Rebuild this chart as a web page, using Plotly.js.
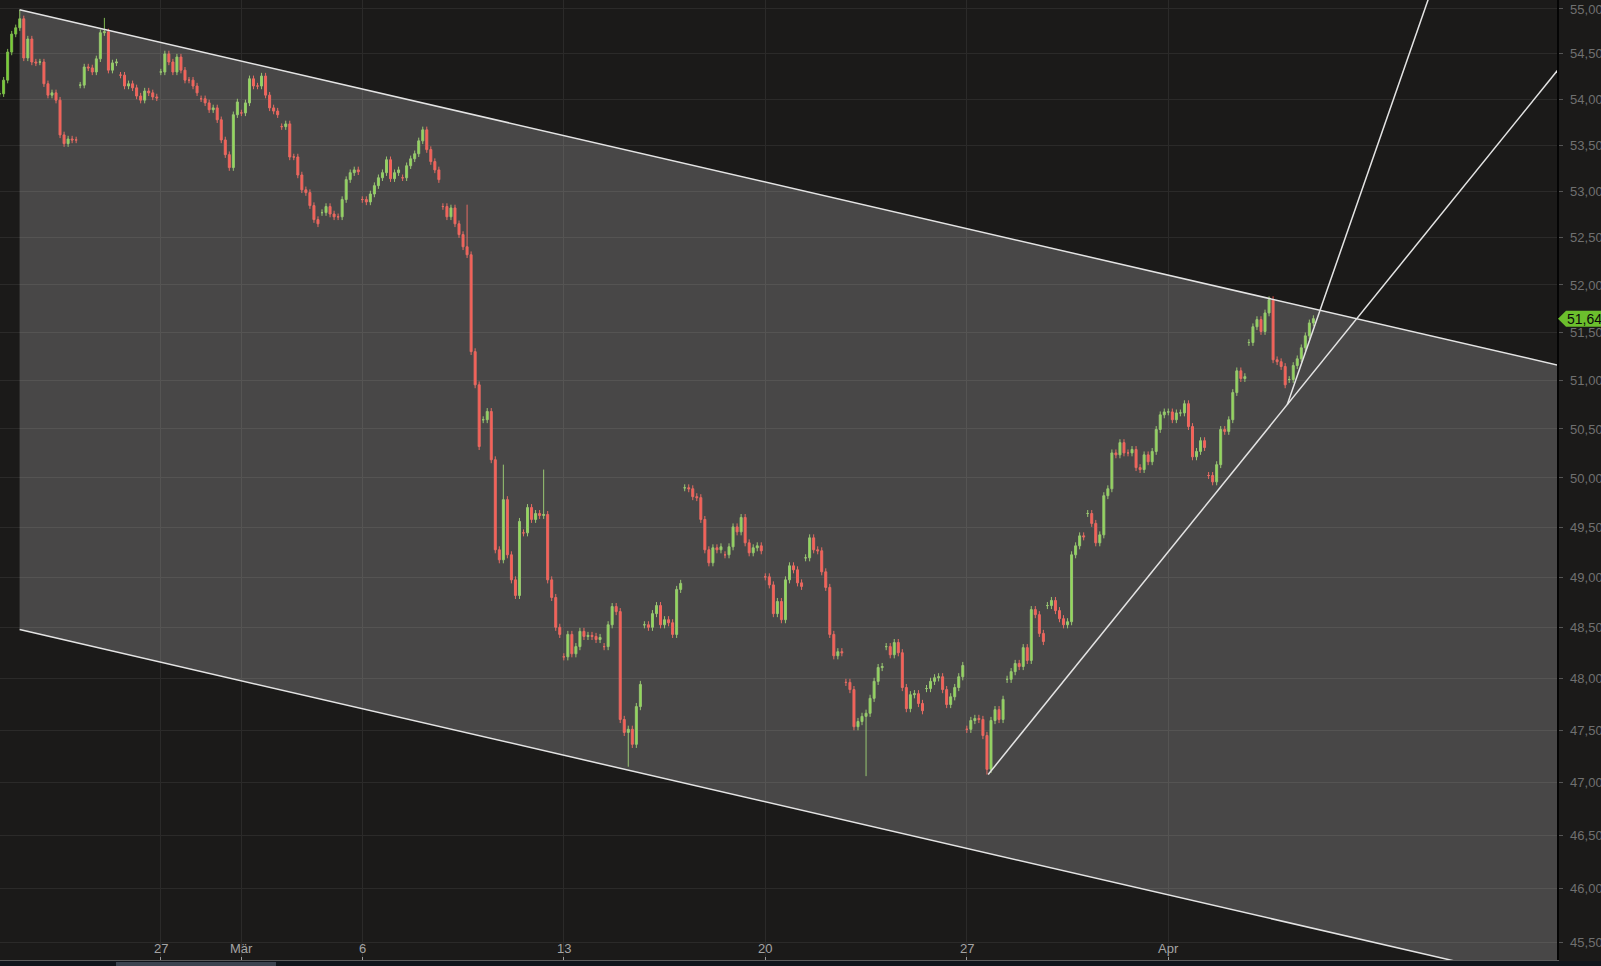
<!DOCTYPE html>
<html>
<head>
<meta charset="utf-8">
<script src="https://cdn.plot.ly/plotly-3.0.1.min.js"></script>
<style>
    html, body { margin: 0; padding: 0; background: #1b1a19; }
    #chart { width: 1601px; height: 966px; }
</style>
</head>
<body>
<div id="chart"></div>
<script>
// trading days on the chart, weekends skipped, 10 intraday bars per day
var days = ['2023-02-21', '2023-02-22', '2023-02-23', '2023-02-24',
    '2023-02-27', '2023-02-28', '2023-03-01', '2023-03-02', '2023-03-03',
    '2023-03-06', '2023-03-07', '2023-03-08', '2023-03-09', '2023-03-10',
    '2023-03-13', '2023-03-14', '2023-03-15', '2023-03-16', '2023-03-17',
    '2023-03-20', '2023-03-21', '2023-03-22', '2023-03-23', '2023-03-24',
    '2023-03-27', '2023-03-28', '2023-03-29', '2023-03-30', '2023-03-31',
    '2023-04-03', '2023-04-04', '2023-04-05', '2023-04-06']
var baseDay = '2023-02-27'
var barsPerDay = 10

// bar closes, one row per trading day
var closes = [
    54060, 54210, 54520, 54720, 54790, 54890, 54455, 54665, 54410, 54400,
    54410, 54170, 54045, 54070, 53990, 53610, 53515, 53565, 53555, 53555,
    54155, 54355, 54345, 54300, 54445, 54735, 54745, 54320, 54400, 54410,
    54265, 54145, 54170, 54125, 54035, 53990, 54090, 54070, 54025, 54015,
    54300, 54500, 54410, 54300, 54465, 54320, 54210, 54210, 54145, 54070,
    54005, 53960, 53885, 53905, 53775, 53555, 53395, 53255, 53830, 53970,
    53850, 53960, 54225, 54145, 54145, 54255, 54045, 53905, 53870, 53830,
    53700, 53730, 53370, 53370, 53175, 53015, 52985, 52845, 52695, 52650,
    52770, 52835, 52755, 52725, 52725, 52910, 53125, 53200, 53230, 53210,
    52910, 52885, 52970, 53060, 53145, 53200, 53340, 53135, 53200, 53230,
    53145, 53275, 53350, 53405, 53545, 53665, 53450, 53320, 53230, 53125,
    52835, 52725, 52820, 52650, 52535, 52405, 52320, 51300, 50955, 50320,
    50595, 50680, 50185, 49275, 49175, 49780, 49225, 48975, 48820, 49560,
    49445, 49700, 49580, 49640, 49620, 49630, 48975, 48800, 48505, 48435,
    48215, 48435, 48245, 48315, 48465, 48415, 48425, 48415, 48385, 48405,
    48315, 48530, 48710, 48660, 47605, 47480, 47510, 47365, 47730, 47945,
    48530, 48505, 48640, 48720, 48530, 48580, 48550, 48435, 48880, 48940,
    49900, 49890, 49810, 49800, 49580, 49275, 49145, 49295, 49275, 49305,
    49225, 49305, 49505, 49455, 49600, 49345, 49245, 49295, 49315, 49265,
    49005, 48925, 48640, 48760, 48580, 48975, 49115, 49075, 48945, 48910,
    49195, 49395, 49275, 49265, 49055, 48900, 48435, 48225, 48265, 48255,
    47965, 47895, 47535, 47585, 47635, 47665, 47810, 47975, 48110, 48120,
    48315, 48235, 48355, 48255, 47915, 47710, 47845, 47855, 47760, 47690,
    47905, 47975, 48010, 48020, 47895, 47750, 47825, 47915, 48020, 48130,
    47510, 47595, 47615, 47605, 47450, 47125, 47595, 47700, 47605, 47800,
    47995, 48070, 48150, 48120, 48305, 48180, 48680, 48630, 48445, 48365,
    48720, 48770, 48670, 48590, 48530, 48560, 49225, 49315, 49415, 49405,
    49640, 49540, 49345, 49425, 49820, 49890, 50255, 50235, 50360, 50255,
    50255, 50290, 50105, 50085, 50235, 50165, 50270, 50495, 50645, 50675,
    50675, 50595, 50665, 50665, 50760, 50525, 50215, 50270, 50380, 50310,
    50025, 49960, 50135, 50495, 50475, 50595, 50875, 51100, 51020, 51040,
    51395, 51560, 51635, 51510, 51705, 51845, 51215, 51195, 51145, 50955,
    51010, 51155, 51225, 51340, 51465, 51600, 51645
]

// long wicks that stick out of the body
var wickBars = [5, 26, 116, 125, 135, 156, 215, 245]
var wickTo = [54990, 54900, 52855, 50135, 50085, 47150, 47060, 47075]

var lastPrice = 51645

var tickDays = ['2023-02-27', '2023-03-01', '2023-03-06', '2023-03-13', '2023-03-20', '2023-03-27', '2023-04-03']
var tickText = ['27', 'Mär', '6', '13', '20', '27', 'Apr']
var priceTicks = [45500, 46000, 46500, 47000, 47500, 48000, 48500, 49000, 49500,
    50000, 50500, 51000, 51500, 52000, 52500, 53000, 53500, 54000, 54500, 55000]

// drawn trend lines, anchors in trading days from 27 Feb
var channelDays = [-3.504, 27.526]
var channelTop = [54990, 51855]
var channelBottomStart = 48483
var trend1Days = [20.53, 27.95]
var trend1Prices = [47076, 50750]
var trend2Days = [27.95, 28.77]
var trend2Prices = [50750, 51739]


var xRange = [-3.99, 34.645]
var yRange = [Math.log10(45334), Math.log10(55100)]
var farDay = 37

function extend(ds, ps, d) {
    var a = Math.log10(ps[0]), b = Math.log10(ps[1])
    return Math.pow(10, a + (b - a) * (d - ds[0]) / (ds[1] - ds[0]))
}

var zero = days.indexOf(baseDay)
var x = [], o = [], h = [], l = [], c = []
for (var i = 0; i < closes.length; i++) {
    var d = Math.floor(i / barsPerDay)
    var k = i % barsPerDay
    x.push(d - zero + k / barsPerDay)
    var op = (k == 0) ? closes[i] : closes[i - 1]
    var cl = closes[i]
    var hi = Math.max(op, cl) + 35
    var lo = Math.min(op, cl) - 35
    var w = wickBars.indexOf(i)
    if (w >= 0) {
        if (wickTo[w] > hi) hi = wickTo[w]
        if (wickTo[w] < lo) lo = wickTo[w]
    }
    o.push(op); h.push(hi); l.push(lo); c.push(cl)
}

var tickVals = tickDays.map(function (t) { return days.indexOf(t) - zero })

var topStart = channelTop[0]
var topEnd = extend(channelDays, channelTop, farDay)
var shift = channelBottomStart / channelTop[0]
var botEnd = topEnd * shift

var lineStyle = { color: '#e4e4e4', width: 1.5 }

var channelFill = {
    x: [channelDays[0], farDay, farDay, channelDays[0]],
    y: [topStart, topEnd, botEnd, channelBottomStart],
    mode: 'lines',
    fill: 'toself',
    fillcolor: 'rgba(255,255,255,0.2)',
    line: { width: 0 },
    hoverinfo: 'skip'
}

var candles = {
    type: 'candlestick',
    x: x, open: o, high: h, low: l, close: c,
    increasing: { line: { color: '#7fb84f', width: 1 }, fillcolor: '#74d62a' },
    decreasing: { line: { color: '#e0473d', width: 1 }, fillcolor: '#ff3328' },
    whiskerwidth: 0,
    hoverinfo: 'skip'
}

var topLine = {
    x: [channelDays[0], farDay], y: [topStart, topEnd],
    mode: 'lines', line: lineStyle, hoverinfo: 'skip'
}
var bottomLine = {
    x: [channelDays[0], farDay], y: [channelBottomStart, botEnd],
    mode: 'lines', line: lineStyle, hoverinfo: 'skip'
}
var trend1 = {
    x: [trend1Days[0], farDay], y: [trend1Prices[0], extend(trend1Days, trend1Prices, farDay)],
    mode: 'lines', line: lineStyle, hoverinfo: 'skip'
}
var trend2 = {
    x: [trend2Days[0], farDay], y: [trend2Prices[0], extend(trend2Days, trend2Prices, farDay)],
    mode: 'lines', line: lineStyle, hoverinfo: 'skip'
}

// where the last price sits on the plot height, 0..1
var lastFrac = (Math.log10(lastPrice) - yRange[0]) / (yRange[1] - yRange[0])

// day labels sit inside the plot, just above the axis line
var dayLabels = tickVals.map(function (v, j) {
    return {
        xref: 'x', x: v, yref: 'paper', y: 0, yanchor: 'bottom', yshift: 2,
        text: tickText[j], showarrow: false,
        font: { family: 'Liberation Sans Narrow, Arial Narrow, sans-serif', size: 13, color: '#a5a5a5' }
    }
})

var layout = {
    width: 1601,
    height: 966,
    margin: { l: 0, r: 44, t: 0, b: 6, pad: 0 },
    paper_bgcolor: '#1b1a19',
    plot_bgcolor: '#1b1a19',
    showlegend: false,
    font: { family: 'Liberation Sans, Arial, sans-serif', color: '#707070', size: 13 },
    xaxis: {
        range: xRange,
        fixedrange: true,
        rangeslider: { visible: false },
        tickvals: tickVals,
        ticktext: tickText,
        showticklabels: false,
        ticks: 'inside',
        ticklen: 3,
        tickcolor: '#999',
        showgrid: true,
        gridcolor: '#2b2a29',
        zeroline: false,
        showline: true,
        linecolor: '#5a5a5a',
        linewidth: 1
    },
    yaxis: {
        type: 'log',
        side: 'right',
        range: yRange,
        fixedrange: true,
        tickvals: priceTicks,
        tickformat: ',.0f',
        ticks: 'outside',
        ticklen: 4,
        tickcolor: '#555',
        ticklabelstandoff: 5,
        tickfont: { color: '#707070', size: 13 },
        showgrid: true,
        gridcolor: '#2b2a29',
        zeroline: false,
        showline: true,
        linecolor: '#050505',
        linewidth: 1.5
    },
    shapes: [
        { type: 'rect', xref: 'paper', yref: 'paper', x0: 0, x1: 1.03, y0: -6 / 960, y1: -1 / 960,
          fillcolor: '#10151b', line: { width: 0 } },
        { type: 'rect', xref: 'paper', yref: 'paper', x0: 116 / 1557, x1: 276 / 1557, y0: -6 / 960, y1: -2 / 960,
          fillcolor: '#3c4450', line: { width: 0 } },
        // last-price tag with its pointer
        { type: 'path', xref: 'paper', xsizemode: 'pixel', xanchor: 1,
          yref: 'paper', ysizemode: 'pixel', yanchor: lastFrac,
          path: 'M1,0 L9,8 L60,8 L60,-8 L9,-8 Z',
          fillcolor: '#6cbf2d', line: { width: 0 }, layer: 'above' }
    ],
    annotations: dayLabels.concat([{
        xref: 'paper', x: 1, xanchor: 'left', xshift: 9,
        yref: 'y', y: Math.log10(lastPrice),
        text: lastPrice.toLocaleString('en-US'),
        showarrow: false,
        borderpad: 0,
        font: { color: '#0a0a0a', size: 14 }
    }])
}

var config = { responsive: false, displayModeBar: false, staticPlot: true }

Plotly.newPlot('chart', [channelFill, candles, topLine, bottomLine, trend1, trend2], layout, config)
</script>
</body>
</html>
